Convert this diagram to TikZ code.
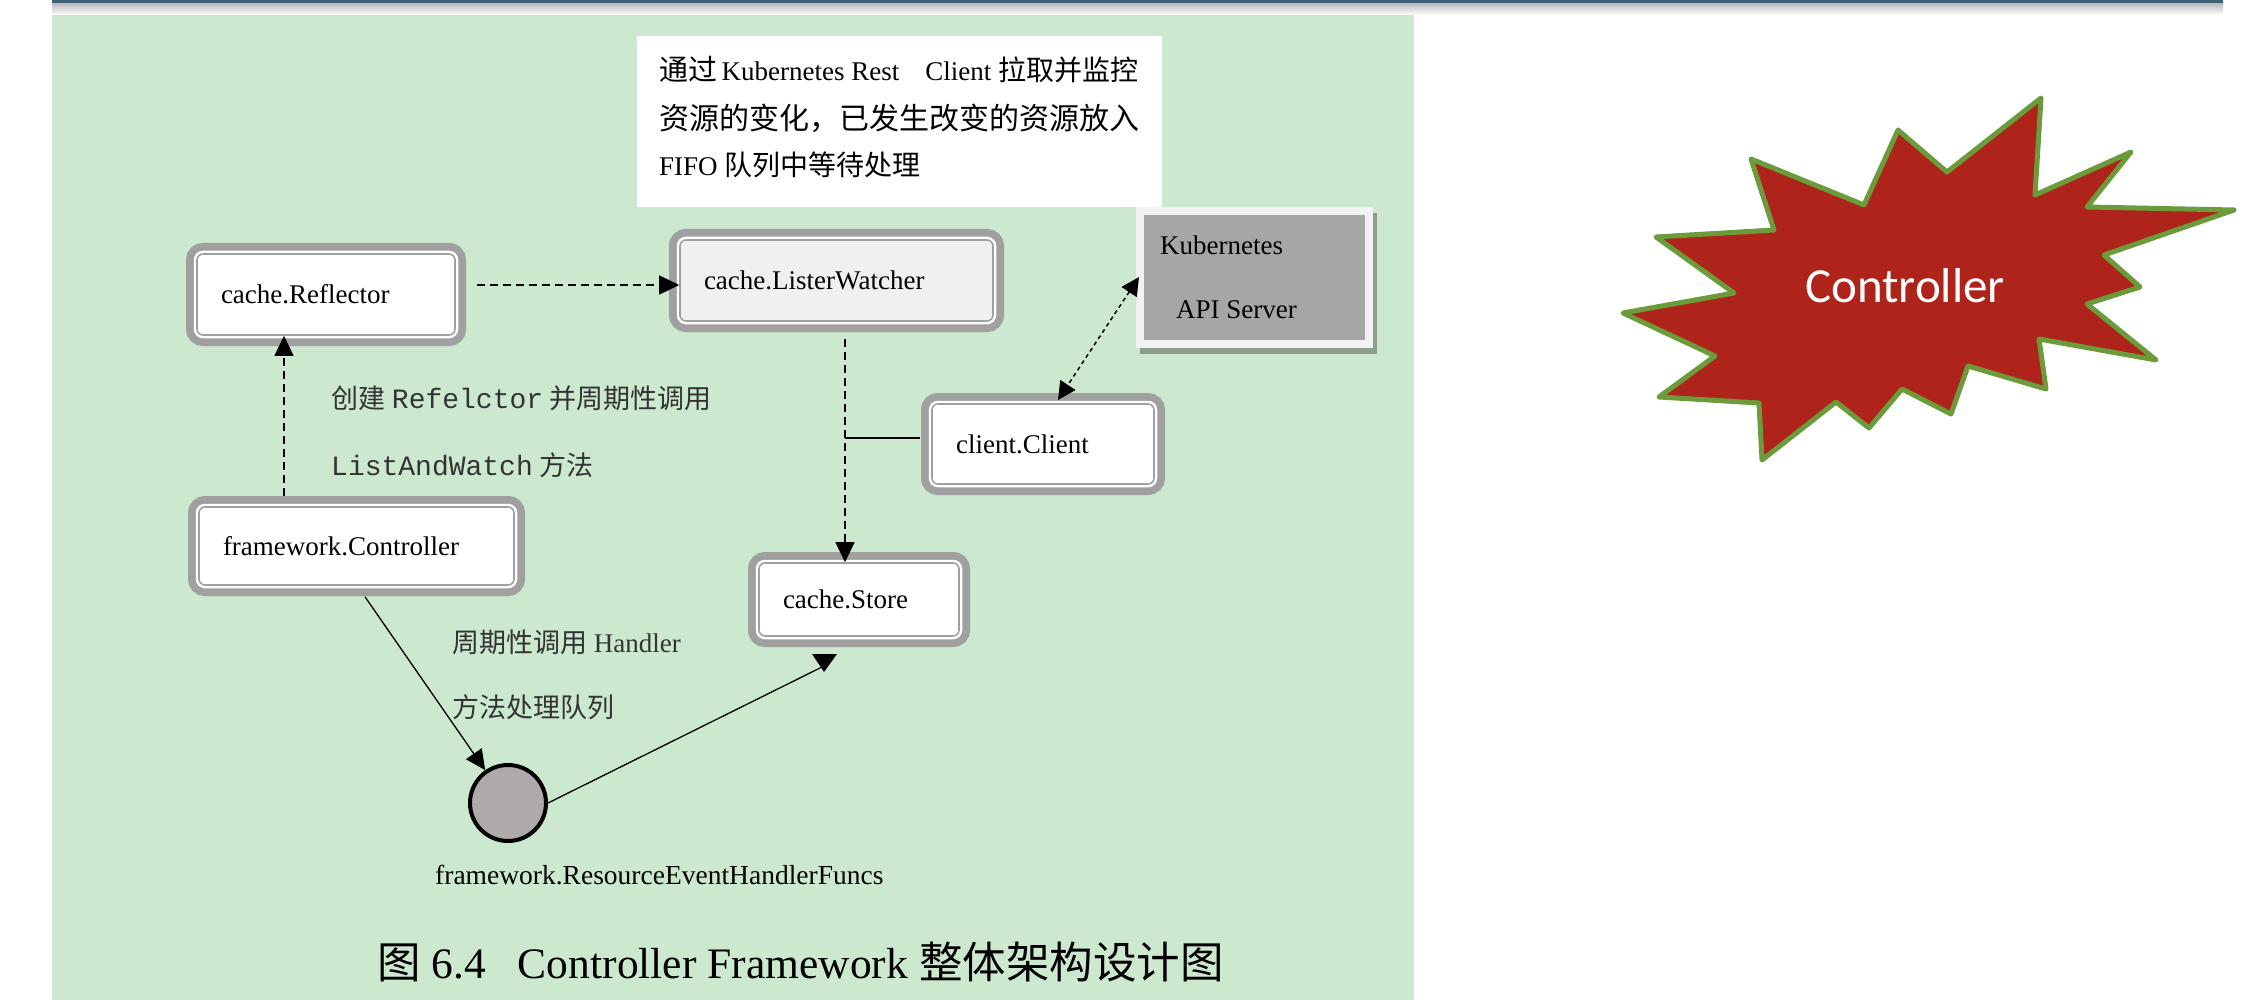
\documentclass[tikz,border=0pt]{standalone}
\usepackage{fontspec}
\usepackage{graphicx}
\setmainfont{Liberation Serif}
\setmonofont{Liberation Mono}
\newfontfamily\cjk{Noto Sans CJK SC}
\newfontfamily\carl{Carlito}
\usetikzlibrary{arrows.meta,calc}
\definecolor{panel}{HTML}{CCE8CF}
\definecolor{bandgray}{HTML}{A0A0A0}
\definecolor{barblue}{HTML}{3D6276}
\definecolor{lwfill}{HTML}{F0F0F0}
\definecolor{apigray}{HTML}{A6A6A6}
\definecolor{apiframe}{HTML}{F2F2F2}
\definecolor{apishadow}{HTML}{8E9C8E}
\definecolor{circfill}{HTML}{AEAAAA}
\definecolor{starred}{HTML}{AE231A}
\definecolor{stargreen}{HTML}{6B9B3A}
\definecolor{lblgray}{HTML}{333333}
\newcommand\fs[1]{\fontsize{#1}{#1}\selectfont}
\newcommand\zh[1]{{\cjk #1}}
\tikzset{
  fwbox/.style={rectangle, rounded corners=6pt, fill=white, draw=bandgray, line width=1.6pt,
    preaction={draw=bandgray, line width=22pt},
    preaction={draw=white, line width=6.5pt},
    align=left, inner xsep=24pt, inner ysep=0pt, font=\fs{27}},
  dashline/.style={line width=1.5pt, dash pattern=on 8pt off 5pt},
  dotline/.style={line width=1.5pt, dash pattern=on 4pt off 3.5pt},
  solidline/.style={line width=1.3pt},
  tip/.style={-{Triangle[length=20pt,width=19pt]}},
  lbl/.style={anchor=west, text=lblgray, inner sep=0pt},
  plain/.style={anchor=west, inner sep=0pt},
}
\begin{document}
\begin{tikzpicture}[x=1pt,y=-1pt]
\useasboundingbox (0,0) rectangle (2256,1000);
\fill[white] (0,0) rectangle (2256,1000);
% top bar
\shade[top color=black!28, bottom color=white] (52,3) rectangle (2223,15);
\fill[barblue] (52,0) rectangle (2223,3.5);
% panel
\fill[panel] (52,15) rectangle (1414,1000);
% white note box
\fill[white] (637,36) rectangle (1162,207);
\node[plain, font=\fs{27}] (t1) at (659,70) {\zh{\fs{29}通过}\,Kubernetes Rest\hspace{26pt}Client \zh{\fs{28}拉取并监控}};
\node[plain, font=\fs{30}] (t2) at (659,118) {\zh{资源的变化，已发生改变的资源放入}};
\node[plain, font=\fs{27}] (t3) at (659,165) {FIFO \zh{\fs{28}队列中等待处理}};

% boxes
\node[fwbox, text width=210pt, minimum height=81pt] (rfl) at (326,294.5) {cache.Reflector};
\node[fwbox, text width=267pt, minimum height=78pt] (ctrl) at (356.5,546) {framework.Controller};
\node[fwbox, fill=lwfill, text width=265pt, minimum height=81pt] (lw) at (836.5,280.5) {cache.ListerWatcher};
\node[fwbox, text width=174pt, minimum height=80pt] (cli) at (1043,444) {client.Client};
\node[fwbox, text width=152pt, minimum height=73pt] (sto) at (859,599.5) {cache.Store};

% API server box
\node[rectangle, fill=apigray, draw=apiframe, line width=8pt, minimum width=229pt, minimum height=132pt, inner sep=0pt,
      preaction={fill=apishadow, draw=apishadow, line width=8pt, transform canvas={shift={(4pt,-6pt)}}}] (api) at (1254,277.5) {};
\node[plain, font=\fs{27}] (k1) at (1160,245) {Kubernetes};
\node[plain, font=\fs{27}] (k2) at (1176,310) {API Server};

% handler circle
\node[circle, draw=black, line width=4pt, fill=circfill, minimum size=76pt, inner sep=0pt] (hf) at (508,803) {};
\node[plain, font=\fs{27.5}] (hfl) at (435,875) {framework.ResourceEventHandlerFuncs};

% labels
\node[lbl, font=\fs{27}] (l1) at (331,398) {\zh{创建} {\ttfamily\fs{28}Refelctor} \zh{并周期性调用}};
\node[lbl, font=\fs{27}] (l2) at (331,465) {{\ttfamily\fs{28}ListAndWatch} \zh{方法}};
\node[lbl, font=\fs{27}] (l3) at (452,642) {\zh{周期性调用} Handler};
\node[lbl, font=\fs{27}] (l4) at (452,707) {\zh{方法处理队列}};

% caption
\node[plain, font=\fs{43.5}] (cap) at (377,962) {\zh{图} 6.4\hspace{32pt}Controller Framework \zh{整体架构设计图}};

% connector helper coordinates
\coordinate (xa) at (284,0);
\coordinate (ya) at (0,285);
\coordinate (xb) at (845,0);
\coordinate (jn) at (845,438);
\coordinate (xc) at (365,0);
\coordinate (apiin) at (1139,277);
\coordinate (clitop) at (1058,400);
\coordinate (stotip) at (824,672);

% connectors
\draw[dashline, tip] ($(ctrl.north -| xa)+(0,-10)$) -- (rfl.south -| xa);
\draw[dashline, tip] ($(rfl.east |- ya)+(21,0)$) -- (lw.west |- ya);
\draw[dashline, tip] ($(lw.south -| xb)+(0,17)$) -- (sto.north -| xb);
\draw[solidline] ($(cli.west |- jn)+(-11,0)$) -- (jn);
\draw[dotline, {Triangle[length=18pt,width=18pt]}-{Triangle[length=18pt,width=18pt]}] (apiin) -- (clitop);
\draw[solidline, tip] ($(ctrl.south -| xc)+(0,11)$) -- (hf);
\draw[solidline] (hf.east) -- ($(stotip)+(-2,-5)$);
\fill ($(stotip)+(-12,-18)$) -- ($(stotip)+(13,-18)$) -- (stotip) -- cycle;

% star
\draw[fill=starred, draw=stargreen, line width=5pt, line join=round]
 (2041,98) -- (2035,195) -- (2131,152) -- (2087,207) -- (2234,210) -- (2104,255)
 -- (2140,287) -- (2087,304) -- (2156,360) -- (2039,339) -- (2046,389) -- (1968,366)
 -- (1951,414) -- (1902,389) -- (1869,428) -- (1836,402) -- (1762,460) -- (1759,403)
 -- (1659,397) -- (1715,356) -- (1623,313) -- (1734,293) -- (1656,237) -- (1774,230)
 -- (1751,159) -- (1864,205) -- (1898,130) -- (1947,172) -- cycle;
\node[font=\carl\fs{49}, text=white] (ctl) at (1905,286) {Controller};
\end{tikzpicture}
\end{document}
